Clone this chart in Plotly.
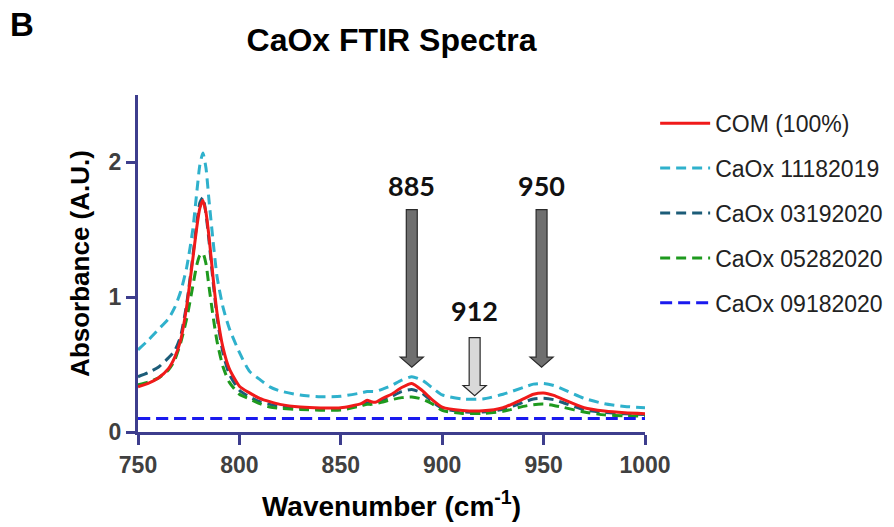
import plotly.graph_objects as go

# ---------------- data ----------------
wavenumber = [750, 755, 760, 765, 768, 771, 774, 777, 779, 780.5, 782, 783.5, 785, 787, 789, 792, 795,
              800, 805, 810, 815, 820, 830, 840, 850, 860, 863, 865, 867, 870, 875, 880, 885, 890,
              895, 900, 910, 920, 930, 940, 945, 950, 955, 960, 970, 980, 990, 1000]

com_100 = [0.335, 0.36, 0.40, 0.47, 0.55, 0.68, 0.93, 1.28, 1.52, 1.66, 1.72, 1.63, 1.45, 1.15, 0.88, 0.62, 0.47,
           0.34, 0.29, 0.25, 0.225, 0.205, 0.185, 0.178, 0.18, 0.21, 0.235, 0.225, 0.22, 0.245, 0.28, 0.33, 0.36, 0.31,
           0.24, 0.185, 0.16, 0.157, 0.18, 0.245, 0.28, 0.29, 0.272, 0.24, 0.18, 0.155, 0.142, 0.135]

caox_11182019 = [0.61, 0.68, 0.76, 0.84, 0.92, 1.04, 1.22, 1.50, 1.78, 1.98, 2.07, 1.96, 1.72, 1.42, 1.15, 0.92, 0.77,
                 0.59, 0.45, 0.39, 0.335, 0.305, 0.274, 0.262, 0.265, 0.29, 0.30, 0.30, 0.30, 0.315, 0.345, 0.385, 0.41, 0.385,
                 0.33, 0.275, 0.245, 0.245, 0.28, 0.33, 0.355, 0.36, 0.345, 0.315, 0.25, 0.21, 0.19, 0.18]

caox_03192020 = [0.41, 0.44, 0.48, 0.55, 0.60, 0.71, 0.95, 1.30, 1.55, 1.70, 1.74, 1.62, 1.42, 1.12, 0.85, 0.58, 0.43,
                 0.31, 0.26, 0.225, 0.205, 0.19, 0.175, 0.17, 0.172, 0.20, 0.215, 0.215, 0.215, 0.235, 0.265, 0.30, 0.315, 0.29,
                 0.225, 0.175, 0.15, 0.148, 0.168, 0.22, 0.245, 0.25, 0.24, 0.215, 0.165, 0.145, 0.135, 0.13]

caox_05282020 = [0.35, 0.37, 0.40, 0.46, 0.53, 0.66, 0.84, 1.08, 1.24, 1.31, 1.325, 1.25, 1.08, 0.86, 0.67, 0.48, 0.37,
                 0.28, 0.245, 0.21, 0.185, 0.175, 0.167, 0.162, 0.163, 0.195, 0.205, 0.205, 0.21, 0.22, 0.24, 0.255, 0.26, 0.245,
                 0.21, 0.16, 0.138, 0.138, 0.153, 0.19, 0.203, 0.207, 0.197, 0.182, 0.148, 0.127, 0.12, 0.118]

blue_x = [750, 800, 850, 900, 950, 1000]
caox_09182020 = [0.10, 0.10, 0.10, 0.10, 0.10, 0.10]

x_ticks = [750, 800, 850, 900, 950, 1000]
y_ticks = [0, 1, 2]

# peak marker arrows
arrow_labels = ["885", "950", "912"]
arrow_x = [885, 949, 916]
arrow_top = [1.65, 1.65, 0.70]
arrow_tip = [0.48, 0.48, 0.27]
arrow_label_y = [1.83, 1.83, 0.90]
arrow_fill = ["#6f6f6f", "#6f6f6f", "#d9d9d9"]

# ---------------- figure ----------------
fig = go.Figure()

series = [
    ("CaOx 11182019", wavenumber, caox_11182019, "#2fb1cc", "10px,6px", 2),
    ("CaOx 03192020", wavenumber, caox_03192020, "#1c5c78", "10px,6px", 3),
    ("CaOx 05282020", wavenumber, caox_05282020, "#1e9a1e", "10px,6px", 4),
    ("CaOx 09182020", blue_x, caox_09182020, "#1a1aee", "12px,6px", 5),
    ("COM (100%)", wavenumber, com_100, "#f01a1a", "solid", 1),
]
for name, xs, ys, col, dash, rank in series:
    fig.add_trace(go.Scatter(
        x=xs, y=ys, name=name, mode="lines",
        line=dict(color=col, width=3, dash=dash, shape="spline", smoothing=0.6),
        legendrank=rank, legendgroup=name,
    ))

shapes = []
annotations = []
sw, hw, hh = 2.7, 5.7, 0.075
for lab, xc, top, tip, ly, fill in zip(arrow_labels, arrow_x, arrow_top, arrow_tip, arrow_label_y, arrow_fill):
    hb = tip + hh
    path = (f"M {xc - sw},{top} L {xc + sw},{top} L {xc + sw},{hb} L {xc + hw},{hb} "
            f"L {xc},{tip} L {xc - hw},{hb} L {xc - sw},{hb} Z")
    shapes.append(dict(type="path", path=path, xref="x", yref="y",
                       fillcolor=fill, line=dict(color="#2a2a2a", width=1.2)))
    annotations.append(dict(x=xc, y=ly, xref="x", yref="y", text=lab, showarrow=False,
                            font=dict(family="Lato", size=27, color="#111111", weight="bold"),
                            xanchor="center", yanchor="middle"))

annotations.append(dict(x=(22 - 138) / 507, y=(432 - 25) / 337, xref="paper", yref="paper",
                        text="B", showarrow=False,
                        font=dict(family="Liberation Sans", size=33, color="black", weight="bold"),
                        xanchor="center", yanchor="middle"))

axis_col = "#3d3d8d"
tick_font = dict(family="Liberation Sans", size=23, color="#404040", weight="bold")

fig.update_layout(
    width=894, height=527,
    margin=dict(l=138, r=249, t=95, b=95, autoexpand=False),
    paper_bgcolor="white", plot_bgcolor="white",
    title=dict(text="CaOx FTIR Spectra", x=0.5, xref="paper", xanchor="center",
               y=1 - 40 / 527, yref="container", yanchor="middle",
               font=dict(family="Liberation Sans", size=32, color="black", weight="bold")),
    xaxis=dict(range=[750, 1000], tickvals=x_ticks, showgrid=False, zeroline=False,
               showline=True, linecolor=axis_col, linewidth=3,
               ticks="outside", ticklen=10, tickwidth=3, tickcolor=axis_col,
               tickfont=tick_font,
               title=dict(text="Wavenumber (cm<sup>-1</sup>)", standoff=20,
                          font=dict(family="Liberation Sans", size=28, color="black", weight="bold"))),
    yaxis=dict(range=[0, 2.5], tickvals=y_ticks, showgrid=False, zeroline=False,
               showline=True, linecolor=axis_col, linewidth=3,
               ticks="outside", ticklen=9, tickwidth=3, tickcolor=axis_col,
               tickfont=tick_font,
               title=dict(text="Absorbance (A.U.)", standoff=12,
                          font=dict(family="Liberation Sans", size=26, color="black", weight="bold"))),
    legend=dict(x=1.02, xanchor="left", y=0.98, yanchor="top",
                font=dict(family="Liberation Sans", size=23, color="#222222"),
                tracegroupgap=12, itemwidth=50, bgcolor="rgba(0,0,0,0)"),
    shapes=shapes,
    annotations=annotations,
)

fig.write_html("out.html")
